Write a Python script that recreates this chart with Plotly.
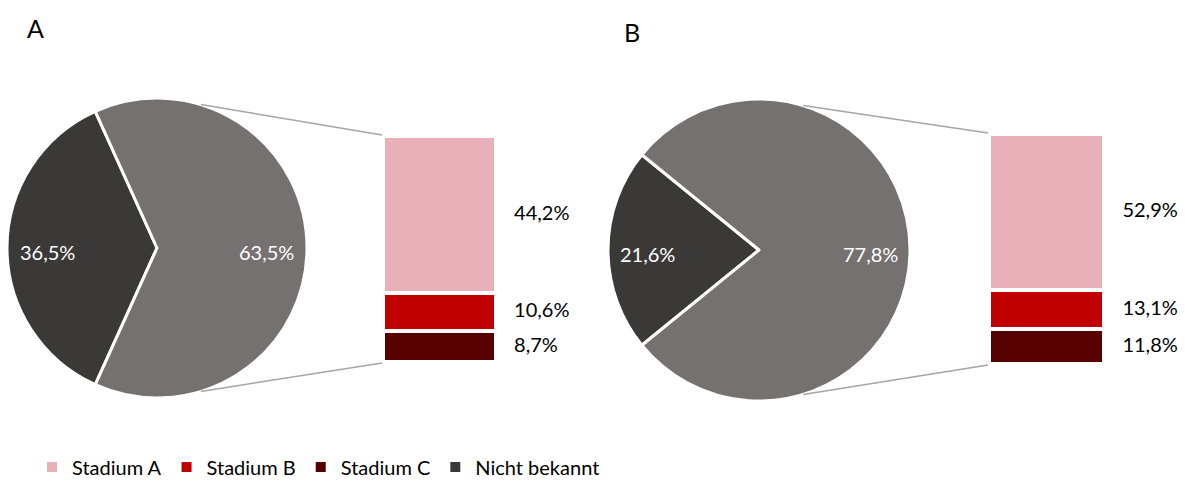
import math
import plotly.graph_objects as go

W, H = 1185, 482

# ---------------- data ----------------
panels = ["A", "B"]
pie_labels = ["Nicht bekannt", "Stadium A–C"]
pie_values_A = [36.5, 63.5]
pie_values_B = [21.6, 77.8]
bar_categories = ["Stadium A", "Stadium B", "Stadium C"]
bar_values_A = [44.2, 10.6, 8.7]
bar_values_B = [52.9, 13.1, 11.8]
legend_labels = ["Stadium A", "Stadium B", "Stadium C", "Nicht bekannt"]

# ---------------- styles ----------------
C_PINK = "#E9B0BA"
C_RED = "#C00000"
C_DRED = "#560000"
C_DGREY = "#3B3838"
C_GREY = "#767171"
C_LINE = "#A6A6A6"
FONT = "Lato"

bar_colors = {"Stadium A": C_PINK, "Stadium B": C_RED, "Stadium C": C_DRED}
legend_colors = [C_PINK, C_RED, C_DRED, C_DGREY]


def px(x):
    return x / W


def py(y):
    return (H - y) / H


# layout geometry (pixels)
geo = {
    "A": dict(cx=157, cy=248, r=150, bar=(383, 496, 136, 362), lab=0.73,
              pie_vals=pie_values_A, bar_vals=bar_values_A, title=(35, 28)),
    "B": dict(cx=759, cy=250, r=151, bar=(989, 1104, 134, 364), lab=0.74,
              pie_vals=pie_values_B, bar_vals=bar_values_B, title=(632, 32)),
}
conn_angle = 17  # degrees from 12 o'clock, where connector leaves the pie
XMAX = 1.0       # axis range right end (bar spans -0.5..0.5)
LABEL_X = 0.66
LABEL_DY = 4

fig = go.Figure()
annotations = []
shapes = []

for i, p in enumerate(panels):
    g = geo[p]
    cx, cy, r = g["cx"], g["cy"], g["r"]
    vals = g["pie_vals"]
    total = sum(vals)
    frac_dark = vals[0] / total
    rotation = 270 - 360 * frac_dark / 2
    if rotation > 180:
        rotation -= 360
    fig.add_trace(go.Pie(
        labels=pie_labels, values=vals, sort=False, direction="clockwise",
        rotation=rotation, textinfo="none", showlegend=False,
        marker=dict(colors=[C_DGREY, C_GREY], line=dict(color="white", width=3)),
        domain=dict(x=[px(cx - r), px(cx + r)], y=[py(cy + r), py(cy - r)]),
        hoverinfo="label+value",
    ))
    start = rotation
    for v in vals:
        sweep = 360 * v / total
        mid = math.radians(start + sweep / 2)
        lx = cx + g["lab"] * r * math.sin(mid)
        ly = cy - g["lab"] * r * math.cos(mid) + LABEL_DY
        annotations.append(dict(
            x=px(lx), y=py(ly), xref="paper", yref="paper",
            text=f"{v:.1f}%".replace(".", ","), showarrow=False,
            font=dict(family=FONT, size=20, color="white"),
            xanchor="center", yanchor="middle"))
        start += sweep

    x0, x1, y0, y1 = g["bar"]
    bw = x1 - x0
    xa = "x" if i == 0 else "x2"
    ya = "y" if i == 0 else "y2"
    bvals = g["bar_vals"]
    order = list(range(len(bar_categories)))[::-1]  # bottom first: C, B, A
    for k in order:
        fig.add_trace(go.Bar(
            x=[0], y=[bvals[k]], name=bar_categories[k], width=1,
            marker=dict(color=bar_colors[bar_categories[k]],
                        line=dict(color="white", width=4)),
            showlegend=False, xaxis=xa, yaxis=ya, hoverinfo="name+y"))
    mids = []
    cum = 0
    for k in order:
        mids.append((cum + bvals[k] / 2, bvals[k]))
        cum += bvals[k]
    fig.add_trace(go.Scatter(
        x=[LABEL_X] * len(mids), y=[m[0] for m in mids],
        text=[f"{m[1]:.1f}%".replace(".", ",") for m in mids],
        mode="text", textposition="middle right", cliponaxis=False,
        textfont=dict(family=FONT, size=20, color="black"),
        showlegend=False, xaxis=xa, yaxis=ya, hoverinfo="skip"))

    ax = dict(domain=[px(x0), px(x0 + (XMAX + 0.5) * bw)], range=[-0.5, XMAX],
              visible=False, fixedrange=True)
    ay = dict(domain=[py(y1), py(y0)], range=[0, sum(bvals)], visible=False, fixedrange=True)
    if i == 0:
        fig.update_layout(xaxis=dict(ax, anchor="y"), yaxis=dict(ay, anchor="x"))
    else:
        fig.update_layout(xaxis2=dict(ax, anchor="y2"), yaxis2=dict(ay, anchor="x2"))

    a = math.radians(conn_angle)
    sx = cx + r * math.sin(a)
    st = cy - r * math.cos(a)
    sb = cy + r * math.cos(a)
    shapes.append(dict(type="line", xref="paper", yref="paper",
                       x0=px(sx), y0=py(st), x1=px(x0 - 1), y1=py(y0 - 1),
                       line=dict(color=C_LINE, width=1.5)))
    shapes.append(dict(type="line", xref="paper", yref="paper",
                       x0=px(sx), y0=py(sb), x1=px(x0 - 1), y1=py(y1 + 1),
                       line=dict(color=C_LINE, width=1.5)))

    tx, ty = g["title"]
    annotations.append(dict(x=px(tx), y=py(ty), xref="paper", yref="paper",
                            text=p, showarrow=False, xanchor="center", yanchor="middle",
                            font=dict(family=FONT, size=25, color="black")))

for lab, col in zip(legend_labels, legend_colors):
    fig.add_trace(go.Scatter(
        x=[None], y=[None], mode="markers", name=lab,
        marker=dict(symbol="square", size=10, color=col),
        showlegend=True, xaxis="x", yaxis="y"))

fig.update_layout(
    width=W, height=H, barmode="stack",
    margin=dict(l=0, r=0, t=0, b=0, autoexpand=False),
    paper_bgcolor="white", plot_bgcolor="rgba(0,0,0,0)",
    annotations=annotations, shapes=shapes,
    legend=dict(orientation="h", x=px(32), y=py(467), xanchor="left", yanchor="middle",
                traceorder="normal",
                font=dict(family=FONT, size=20, color="black"),
                itemwidth=30, tracegroupgap=0, bgcolor="rgba(0,0,0,0)"),
    font=dict(family=FONT),
)

fig.write_html("out.html", config={"displayModeBar": False},
               post_script="document.body.style.margin='0';")
